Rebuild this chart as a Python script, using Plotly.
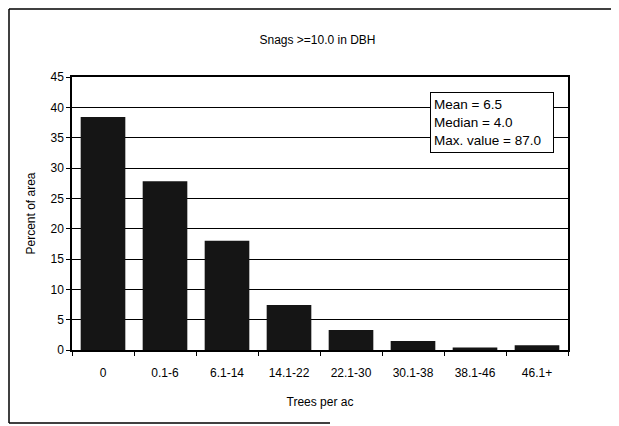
import plotly.graph_objects as go

categories = ["0", "0.1-6", "6.1-14", "14.1-22", "22.1-30", "30.1-38", "38.1-46", "46.1+"]
percent_of_area = [38.4, 27.8, 18.0, 7.4, 3.3, 1.5, 0.4, 0.8]
y_ticks = [0, 5, 10, 15, 20, 25, 30, 35, 40, 45]
stats_text = "Mean = 6.5<br>Median = 4.0<br>Max. value = 87.0"

font_family = "Liberation Sans, Arial, sans-serif"

# page has an 8px body margin; work in figure coordinates
OFF = 8
L, R, T, B = 72 - OFF, 568 - OFF, 77 - OFF, 350 - OFF
W, H = 619, 426
PW, PH = R - L, B - T


def px(x):
    return (x - OFF - L) / PW


def py(y):
    return (B - (y - OFF)) / PH


fig = go.Figure()
fig.add_trace(go.Bar(
    x=categories, y=percent_of_area,
    marker=dict(color="#151515", line=dict(width=0)),
    width=0.72,
))

fig.update_layout(
    width=W, height=H,
    margin=dict(l=L, r=W - R, t=T, b=H - B),
    paper_bgcolor="white", plot_bgcolor="white",
    showlegend=False,
    font=dict(family=font_family, size=12, color="black"),
    title=dict(text="Snags >=10.0 in DBH", x=0.5, xanchor="center",
               y=1 - (40 - OFF) / H, yanchor="middle",
               font=dict(size=12, family=font_family, color="black")),
    xaxis=dict(
        title=dict(text="Trees per ac", font=dict(size=12), standoff=18),
        showline=True, linecolor="black", linewidth=1.5, mirror=True,
        ticks="outside", tickson="boundaries", ticklen=4, tickcolor="black",
        showgrid=False, tickfont=dict(size=12), ticklabelstandoff=11,
    ),
    yaxis=dict(
        title=dict(text="Percent of area", font=dict(size=12), standoff=12),
        range=[0, 45], tickvals=y_ticks,
        showline=True, linecolor="black", linewidth=1.5, mirror=True,
        ticks="outside", ticklen=4, tickcolor="black",
        showgrid=True, gridcolor="black", gridwidth=1,
        tickfont=dict(size=12), zeroline=False,
    ),
    annotations=[dict(
        text=stats_text, xref="paper", yref="paper",
        x=px(430), y=py(92), xanchor="left", yanchor="top",
        align="left", showarrow=False, bgcolor="white",
        width=116, height=53, valign="middle",
        bordercolor="black", borderwidth=1, borderpad=3,
        font=dict(size=13.5, family=font_family, color="black"),
    )],
    shapes=[
        dict(type="line", xref="paper", yref="paper",
             x0=px(9), x1=px(9), y0=py(423), y1=py(9),
             line=dict(color="black", width=1.5)),
        dict(type="line", xref="paper", yref="paper",
             x0=px(9), x1=px(614), y0=py(9), y1=py(9),
             line=dict(color="black", width=1.5)),
        dict(type="line", xref="paper", yref="paper",
             x0=px(9), x1=px(330), y0=py(423), y1=py(423),
             line=dict(color="black", width=1.5)),
    ],
)

fig.write_html("out.html")
